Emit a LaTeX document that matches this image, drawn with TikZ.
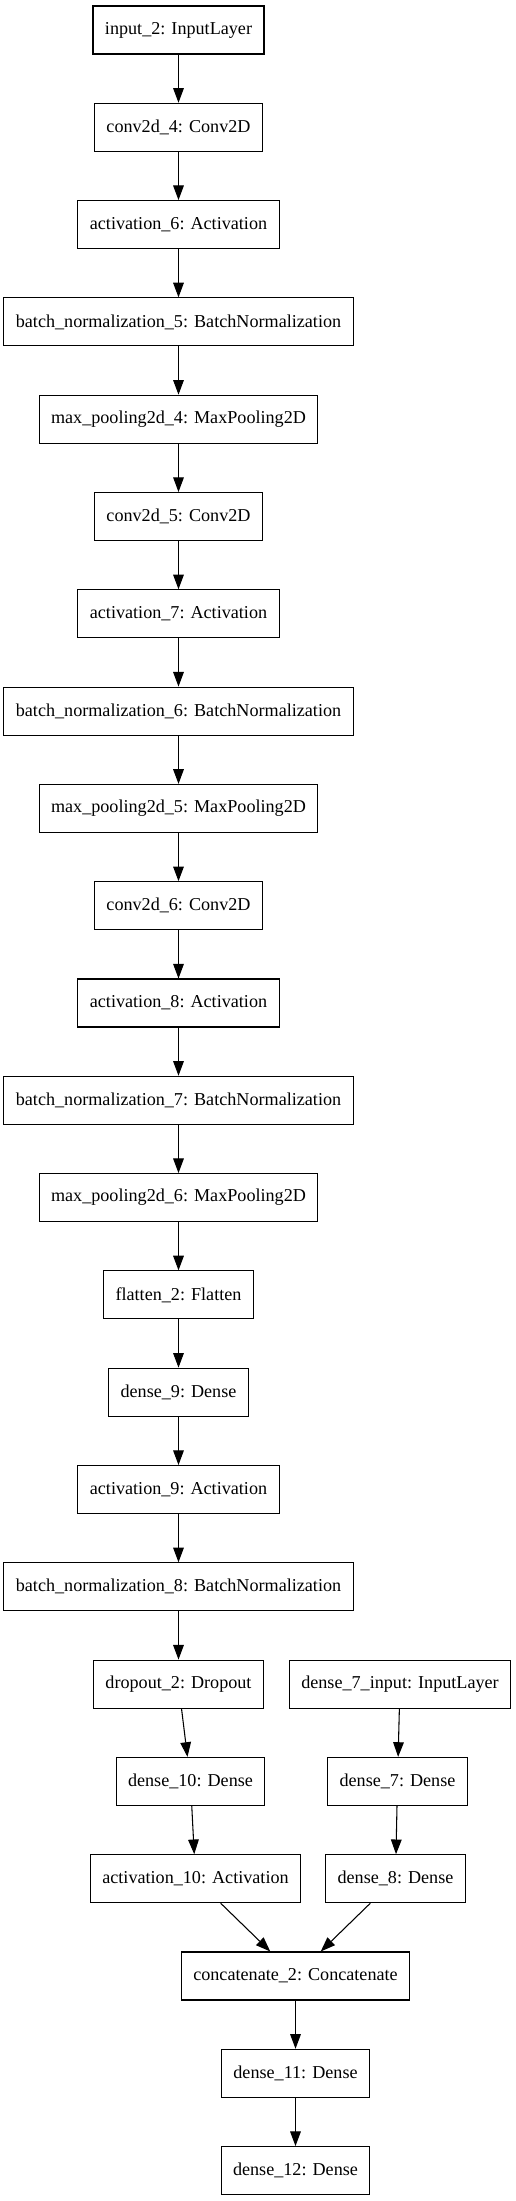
\documentclass[tikz,border=0pt]{standalone}
\usepackage{fontspec}
\setmainfont{Liberation Serif}
\usepackage{tikz}
\usepackage{xcolor}
\usetikzlibrary{arrows.meta}
\tikzset{
    layer-box/.style = {draw=black, fill=white, line width=0.8pt, rectangle, minimum height=36pt, inner xsep=9pt, inner ysep=0pt, font=\fontsize{13.6pt}{16pt}\selectfont},
    flow-arrow/.style = {draw=black, line width=0.8pt, -{Triangle[length=11pt,width=8pt]}},
}

\begin{document}
\begin{tikzpicture}[x=0.75pt, y=-0.75pt]
\useasboundingbox (0,0) rectangle (516,2201);
% main chain
\node [layer-box] (input2) at (178.5,30) {input\_2: InputLayer};
\node [layer-box] (conv4) at (178.5,127.3) {conv2d\_4: Conv2D};
\node [layer-box] (act6) at (178.5,224.6) {activation\_6: Activation};
\node [layer-box] (bn5) at (178.5,321.9) {batch\_normalization\_5: BatchNormalization};
\node [layer-box] (pool4) at (178.5,419.2) {max\_pooling2d\_4: MaxPooling2D};
\node [layer-box] (conv5) at (178.5,516.5) {conv2d\_5: Conv2D};
\node [layer-box] (act7) at (178.5,613.8) {activation\_7: Activation};
\node [layer-box] (bn6) at (178.5,711.1) {batch\_normalization\_6: BatchNormalization};
\node [layer-box] (pool5) at (178.5,808.4) {max\_pooling2d\_5: MaxPooling2D};
\node [layer-box] (conv6) at (178.5,905.7) {conv2d\_6: Conv2D};
\node [layer-box] (act8) at (178.5,1003) {activation\_8: Activation};
\node [layer-box] (bn7) at (178.5,1100.3) {batch\_normalization\_7: BatchNormalization};
\node [layer-box] (pool6) at (178.5,1197.6) {max\_pooling2d\_6: MaxPooling2D};
\node [layer-box] (flat2) at (178.5,1294.9) {flatten\_2: Flatten};
\node [layer-box] (dense9) at (178.5,1392.2) {dense\_9: Dense};
\node [layer-box] (act9) at (178.5,1489.5) {activation\_9: Activation};
\node [layer-box] (bn8) at (178.5,1586.8) {batch\_normalization\_8: BatchNormalization};
\node [layer-box] (drop2) at (178.5,1684.1) {dropout\_2: Dropout};
\node [layer-box] (dense10) at (190.5,1781.4) {dense\_10: Dense};
\node [layer-box] (act10) at (195.5,1878.7) {activation\_10: Activation};
% second input
\node [layer-box] (input7) at (400,1684.1) {dense\_7\_input: InputLayer};
\node [layer-box] (dense7) at (397.5,1781.4) {dense\_7: Dense};
\node [layer-box] (dense8) at (395.5,1878.7) {dense\_8: Dense};
% merge
\node [layer-box] (concat2) at (295.5,1976) {concatenate\_2: Concatenate};
\node [layer-box] (dense11) at (295.5,2073.3) {dense\_11: Dense};
\node [layer-box] (dense12) at (295.5,2170.6) {dense\_12: Dense};

\draw [flow-arrow] (input2) -- (conv4);
\draw [flow-arrow] (conv4) -- (act6);
\draw [flow-arrow] (act6) -- (bn5);
\draw [flow-arrow] (bn5) -- (pool4);
\draw [flow-arrow] (pool4) -- (conv5);
\draw [flow-arrow] (conv5) -- (act7);
\draw [flow-arrow] (act7) -- (bn6);
\draw [flow-arrow] (bn6) -- (pool5);
\draw [flow-arrow] (pool5) -- (conv6);
\draw [flow-arrow] (conv6) -- (act8);
\draw [flow-arrow] (act8) -- (bn7);
\draw [flow-arrow] (bn7) -- (pool6);
\draw [flow-arrow] (pool6) -- (flat2);
\draw [flow-arrow] (flat2) -- (dense9);
\draw [flow-arrow] (dense9) -- (act9);
\draw [flow-arrow] (act9) -- (bn8);
\draw [flow-arrow] (bn8) -- (drop2);
\draw [flow-arrow] (drop2) -- (dense10);
\draw [flow-arrow] (dense10) -- (act10);
\draw [flow-arrow] (input7) -- (dense7);
\draw [flow-arrow] (dense7) -- (dense8);
\draw [flow-arrow] (act10) -- (concat2);
\draw [flow-arrow] (dense8) -- (concat2);
\draw [flow-arrow] (concat2) -- (dense11);
\draw [flow-arrow] (dense11) -- (dense12);
\end{tikzpicture}
\end{document}
